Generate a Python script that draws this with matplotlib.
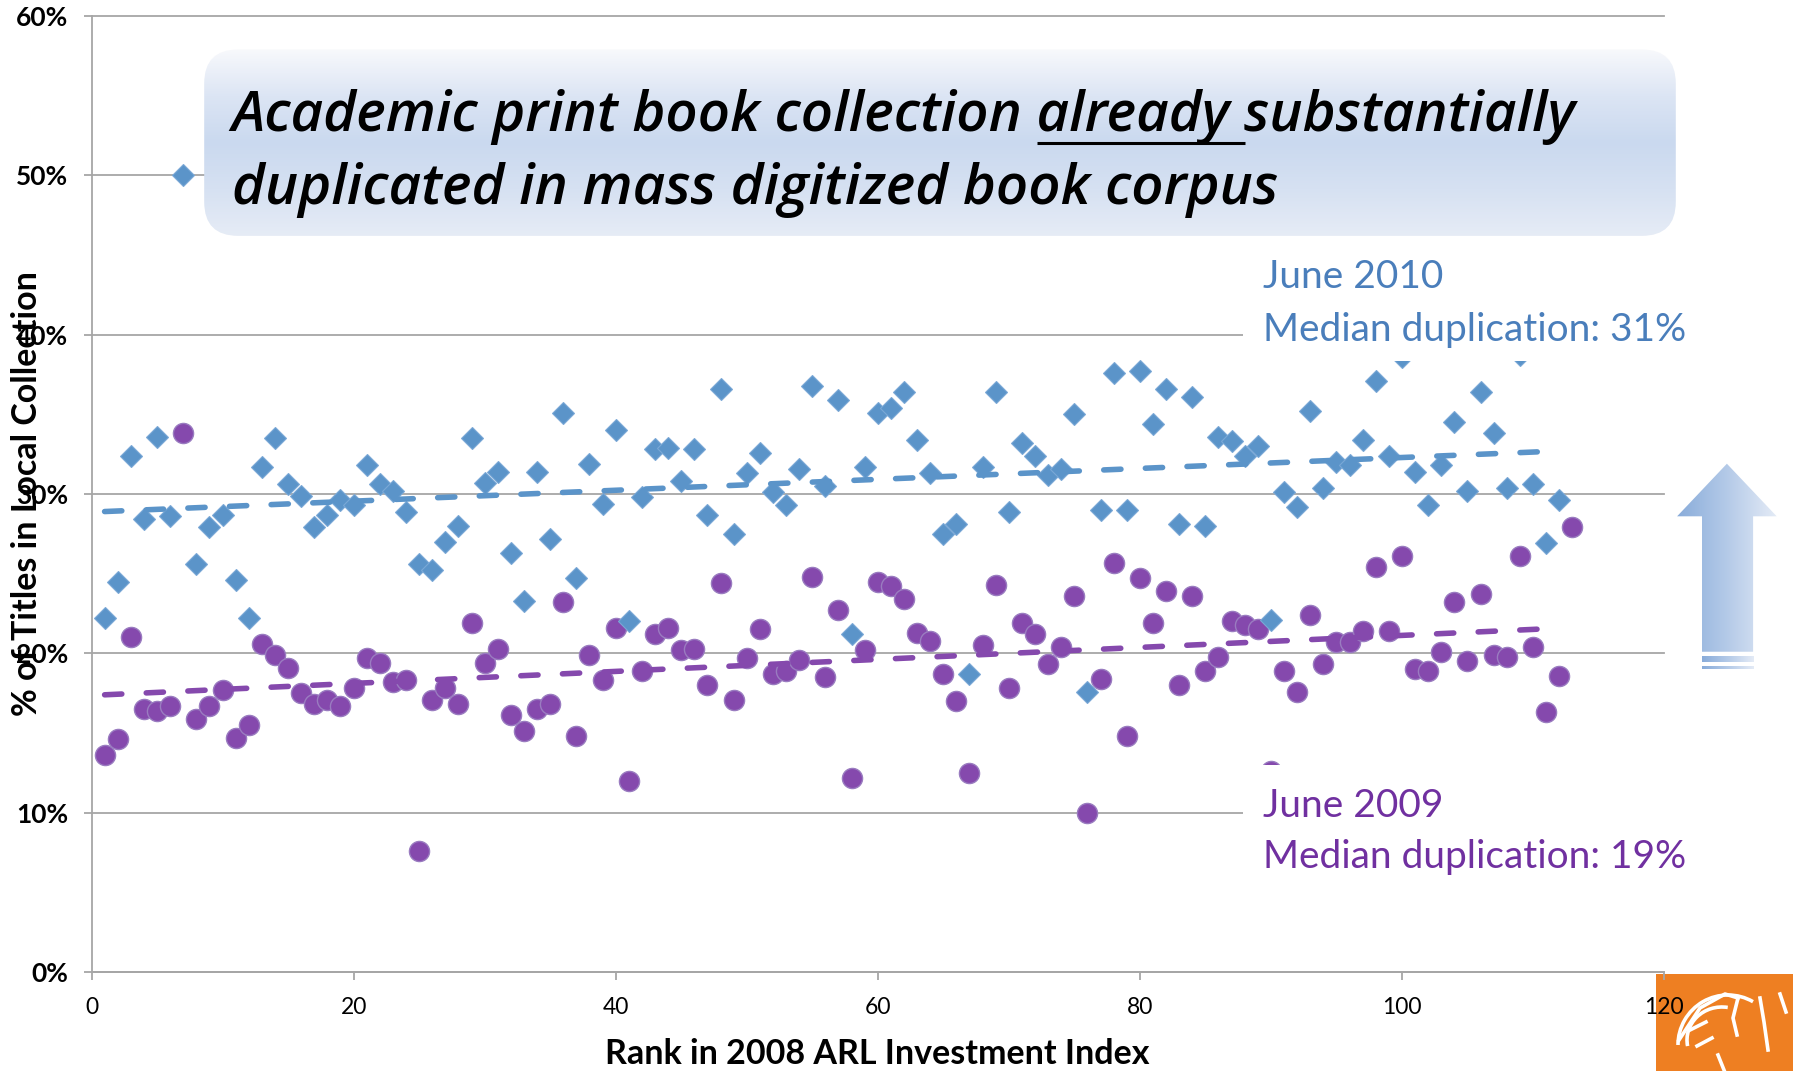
import numpy as np
import matplotlib
matplotlib.use("Agg")
import matplotlib.pyplot as plt
from matplotlib.colors import LinearSegmentedColormap
from matplotlib.patches import FancyBboxPatch, Rectangle, Polygon, Arc

plt.rcParams['font.family'] = ['Lato', 'DejaVu Sans']

# ---- data ----
rank_2010 = np.arange(1, 113)
dup_2010 = np.array([
    22.2, 24.5, 32.4, 28.4, 33.6, 28.6, 50.0, 25.6, 27.9, 28.7,
    24.6, 22.2, 31.7, 33.5, 30.6, 29.9, 27.9, 28.7, 29.6, 29.3,
    31.8, 30.6, 30.2, 28.9, 25.6, 25.2, 27.0, 28.0, 33.5, 30.7,
    31.4, 26.3, 23.3, 31.4, 27.2, 35.1, 24.7, 31.9, 29.4, 34.0,
    22.0, 29.8, 32.8, 32.9, 30.8, 32.8, 28.7, 36.6, 27.5, 31.3,
    32.6, 30.1, 29.3, 31.6, 36.8, 30.5, 35.9, 21.2, 31.7, 35.1,
    35.4, 36.4, 33.4, 31.3, 27.5, 28.1, 18.7, 31.7, 36.4, 28.9,
    33.2, 32.4, 31.2, 31.6, 35.0, 17.6, 29.0, 37.6, 29.0, 37.7,
    34.4, 36.6, 28.1, 36.1, 28.0, 33.6, 33.3, 32.4, 33.0, 22.1,
    30.1, 29.2, 35.2, 30.4, 32.0, 31.8, 33.4, 37.1, 32.4, 38.6,
    31.4, 29.3, 31.8, 34.5, 30.2, 36.4, 33.8, 30.4, 38.7, 30.6,
    26.9, 29.6])

rank_2009 = np.arange(1, 114)
dup_2009 = np.array([
    13.6, 14.6, 21.0, 16.5, 16.4, 16.7, 33.8, 15.9, 16.7, 17.7,
    14.7, 15.5, 20.6, 19.9, 19.1, 17.5, 16.8, 17.1, 16.7, 17.8,
    19.7, 19.4, 18.2, 18.3, 7.6, 17.1, 17.8, 16.8, 21.9, 19.4,
    20.3, 16.1, 15.1, 16.5, 16.8, 23.2, 14.8, 19.9, 18.3, 21.6,
    12.0, 18.9, 21.2, 21.6, 20.2, 20.3, 18.0, 24.4, 17.1, 19.7,
    21.5, 18.7, 18.9, 19.6, 24.8, 18.5, 22.7, 12.2, 20.2, 24.5,
    24.2, 23.4, 21.3, 20.8, 18.7, 17.0, 12.5, 20.5, 24.3, 17.8,
    21.9, 21.2, 19.3, 20.4, 23.6, 10.0, 18.4, 25.7, 14.8, 24.7,
    21.9, 23.9, 18.0, 23.6, 18.9, 19.8, 22.0, 21.8, 21.5, 12.6,
    18.9, 17.6, 22.4, 19.3, 20.7, 20.7, 21.4, 25.4, 21.4, 26.1,
    19.0, 18.9, 20.1, 23.2, 19.5, 23.7, 19.9, 19.8, 26.1, 20.4,
    16.3, 18.6, 27.9])

x_ticks = [0, 20, 40, 60, 80, 100, 120]
y_ticks = [0, 10, 20, 30, 40, 50, 60]

title_1 = "Academic print book collection "
title_u = "already "
title_2 = "substantially"
title_3 = "duplicated in mass digitized book corpus"
label_2010 = ["June 2010", "Median duplication: 31%"]
label_2009 = ["June 2009", "Median duplication: 19%"]

blue = '#5B94C9'
purple = '#8549AD'
blue_txt = '#4A7EBB'
purple_txt = '#7030A0'
grid_c = '#A6A6A6'

W, H = 1793, 1071
fig = plt.figure(figsize=(W / 100, H / 100), dpi=100)

# background layer (pixel coords) for the corner logo, under the tick labels
bg = fig.add_axes([0, 0, 1, 1], zorder=-1)
bg.axis('off')

L, R, B, T = 91.5, 1664, 972, 16
ax = fig.add_axes([L / W, 1 - B / H, (R - L) / W, (B - T) / H])
ax.patch.set_alpha(0)
ax.set_xlim(0, 120)
ax.set_ylim(0, 60)
ax.set_xticks(x_ticks)
ax.set_yticks(y_ticks)
ax.set_yticklabels([f'{v}%' for v in y_ticks], fontweight='bold', fontsize=19)
ax.set_xticklabels([str(v) for v in x_ticks], fontsize=16.5)
ax.grid(axis='y', color=grid_c, lw=1.3)
for gl in ax.get_ygridlines():
    gl.set_clip_on(False)
ax.set_axisbelow(True)
for s in ['top', 'right']:
    ax.spines[s].set_visible(False)
for s in ['left', 'bottom']:
    ax.spines[s].set_color(grid_c)
    ax.spines[s].set_linewidth(1.3)
ax.tick_params(axis='both', color=grid_c, width=1.3, length=6, direction='out')
ax.tick_params(axis='y', pad=11)
ax.tick_params(axis='x', pad=12)

# series
ax.plot(rank_2009, dup_2009, 'o', ms=14.5, mfc=purple, mec='#9A7CC0', mew=1.0, zorder=3)
ax.plot(rank_2010, dup_2010, 'D', ms=10.8, mfc=blue, mec='#7AA8D6', mew=0.8, zorder=3.5)

# linear trendlines
for rk, dp, c in [(rank_2010, dup_2010, blue), (rank_2009, dup_2009, purple)]:
    coef = np.polyfit(rk, dp, 1)
    xs = np.array([rk.min(), 112])
    ax.plot(xs, np.polyval(coef, xs), color=c, lw=4.0, ls=(0, (3.1, 4.4)),
            dash_capstyle='round', zorder=4)

fig.text(27 / W, 1 - 494 / H, '% of Titles in Local Collection', rotation=90,
         ha='center', va='center', fontsize=24.5, fontweight='bold')
fig.text(877 / W, 1 - 1054 / H, 'Rank in 2008 ARL Investment Index',
         ha='center', va='center', fontsize=24.5, fontweight='bold')

# ---- overlay in pixel coordinates ----
ov = fig.add_axes([0, 0, 1, 1], zorder=5)


def px(xd, yd):
    X, Y = ax.transData.transform((xd, yd))
    return X, H - Y


def grad_fill(axx, patch, colors, horizontal=False):
    axx.add_patch(patch)
    ext = patch.get_path().get_extents(patch.get_patch_transform())
    g = np.linspace(0, 1, 256)
    g = g.reshape(1, -1) if horizontal else g.reshape(-1, 1)
    cm = LinearSegmentedColormap.from_list('g', colors)
    im = axx.imshow(g, cmap=cm, extent=(ext.x0, ext.x1, ext.y1, ext.y0),
                    aspect='auto', origin='upper', zorder=patch.get_zorder())
    im.set_clip_path(patch)


# title box
bx0, by0 = px(8.6, 57.9)
bx1, by1 = px(120.9, 46.2)
tbox = FancyBboxPatch((bx0, by0), bx1 - bx0, by1 - by0,
                      boxstyle='round,pad=0,rounding_size=34', fc='none', ec='none', zorder=1)
grad_fill(ov, tbox, ['#F8F9FC', '#DCE5F4', '#CAD9EF', '#D6E1F2', '#E6ECF6'])

rend = fig.canvas.get_renderer()
tprops = dict(family=['Open Sans', 'DejaVu Sans'], fontsize=36, fontweight='semibold',
              fontstyle='italic', color='black', va='center', ha='left', zorder=3)


def tw(s):
    a = ov.text(0, 0, '|' + s + '|', **tprops)
    b = ov.text(0, 0, '||', **tprops)
    w = a.get_window_extent(rend).width - b.get_window_extent(rend).width
    a.remove()
    b.remove()
    return w


tx, ty1 = px(10.7, 53.65)
_, ty2 = px(10.7, 49.05)
# size the title so the first line spans the same width as in the slide
tprops['fontsize'] = 36 * 1344 / tw(title_1 + title_u + title_2)
ov.text(tx, ty1, title_1 + title_u + title_2, **tprops)
ov.text(tx, ty2, title_3, **tprops)

u0 = tx + tw(title_1)
u1 = tx + tw(title_1 + title_u)
_, uy = px(0, 52.0)
ov.plot([u0, u1], [uy, uy], color='black', lw=2.2, zorder=3, solid_capstyle='butt')

# series labels with white backing
lx0, ly0 = px(87.9, 45.0)
_, ly1 = px(0, 38.35)
ov.add_patch(Rectangle((lx0, ly0), W - lx0, ly1 - ly0, fc='white', ec='none', zorder=1))
lx, l1 = px(89.4, 43.6)
_, l2 = px(0, 40.3)
ov.text(lx, l1, label_2010[0], color=blue_txt, fontsize=28, va='center', ha='left', zorder=3)
ov.text(lx, l2, label_2010[1], color=blue_txt, fontsize=28, va='center', ha='left', zorder=3)

_, py0 = px(0, 13.0)
_, py1 = px(0, 4.5)
ov.add_patch(Rectangle((lx0, py0), W - lx0, py1 - py0, fc='white', ec='none', zorder=1))
_, m1 = px(0, 10.4)
_, m2 = px(0, 7.2)
ov.text(lx, m1, label_2009[0], color=purple_txt, fontsize=28, va='center', ha='left', zorder=3)
ov.text(lx, m2, label_2009[1], color=purple_txt, fontsize=28, va='center', ha='left', zorder=3)

# up arrow
arrow_pts = [px(124.8, 31.9), px(128.6, 28.6), px(126.8, 28.6), px(126.8, 20.1),
             px(122.9, 20.1), px(122.9, 28.6), px(121.0, 28.6)]
arrow_cols = ['#89ACDA', '#B4CAE8', '#E4EBF6']
grad_fill(ov, Polygon(arrow_pts, closed=True, fc='none', ec='none', zorder=2), arrow_cols,
          horizontal=True)
for ya, yb in [(19.85, 19.45), (19.2, 19.0)]:
    sx0, sy0 = px(122.9, ya)
    sx1, sy1 = px(126.8, yb)
    grad_fill(ov, Rectangle((sx0, sy0), sx1 - sx0, sy1 - sy0, fc='none', ec='none', zorder=2),
              arrow_cols, horizontal=True)

ov.set_xlim(0, W)
ov.set_ylim(H, 0)
ov.axis('off')

# corner logo (orange tile with a white line drawing of an elephant head)
ox0, oy0 = px(119.4, -0.1)
bg.add_patch(Rectangle((ox0, oy0), W - ox0, H - oy0, fc='#EE7F22', ec='none', zorder=1))
lw_logo = 2.6
bg.add_patch(Arc((1728, 1045), 100, 100, theta1=180, theta2=300, color='white', lw=lw_logo, zorder=2))
bg.add_patch(Arc((1722, 1040), 70, 66, theta1=170, theta2=280, color='white', lw=lw_logo, zorder=2))
bg.plot([1679, 1700, 1725, 1738], [1040, 1008, 994, 998], color='white', lw=lw_logo, zorder=2)
bg.plot([1738, 1733, 1737], [998, 1018, 1035], color='white', lw=lw_logo, zorder=2)
bg.plot([1690, 1706], [1030, 1022], color='white', lw=lw_logo, zorder=2)
bg.plot([1697, 1712], [1046, 1038], color='white', lw=lw_logo, zorder=2)
bg.plot([1718, 1724], [1055, 1070], color='white', lw=lw_logo, zorder=2)
bg.plot([1760, 1764, 1768], [998, 1022, 1050], color='white', lw=lw_logo, zorder=2)
bg.plot([1780, 1786], [994, 1012], color='white', lw=lw_logo, zorder=2)
bg.set_xlim(0, W)
bg.set_ylim(H, 0)

fig.savefig('out.png', dpi=100)
